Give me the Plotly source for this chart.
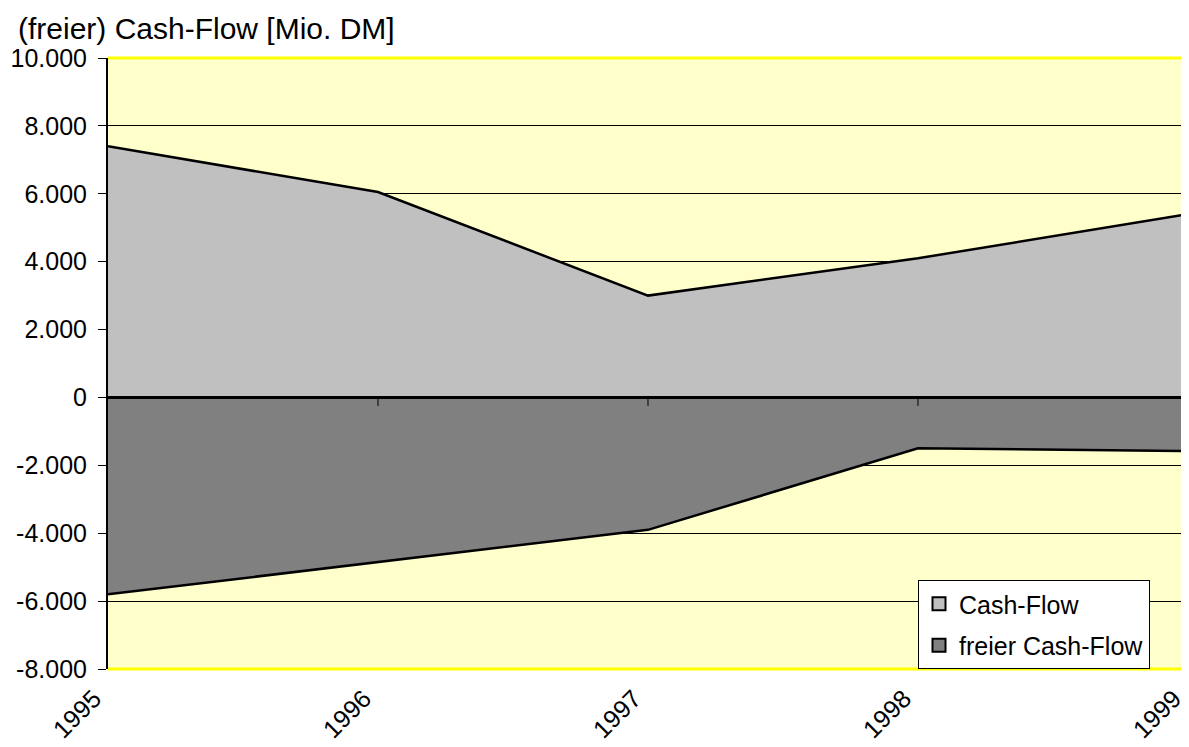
import plotly.graph_objects as go

years = [1995, 1996, 1997, 1998, 1999]
cash_flow = [7400, 6050, 3000, 4100, 5400]
freier_cash_flow = [-5800, -4850, -3900, -1500, -1580]
y_tickvals = [-8000, -6000, -4000, -2000, 0, 2000, 4000, 6000, 8000, 10000]
y_ticktext = ["-8.000", "-6.000", "-4.000", "-2.000", "0", "2.000", "4.000", "6.000", "8.000", "10.000"]

FONT = "Liberation Sans, Arial, sans-serif"

fig = go.Figure()
fig.add_trace(go.Scatter(
    x=years, y=cash_flow, name="Cash-Flow", mode="lines",
    fill="tozeroy", fillcolor="#C0C0C0",
    line=dict(color="black", width=2.5), showlegend=False))
fig.add_trace(go.Scatter(
    x=years, y=freier_cash_flow, name="freier Cash-Flow", mode="lines",
    fill="tozeroy", fillcolor="#808080",
    line=dict(color="black", width=2.5), showlegend=False))
# legend entries with square swatches
fig.add_trace(go.Scatter(
    x=[None], y=[None], name="Cash-Flow", mode="markers", legendgroup="a",
    marker=dict(symbol="square", size=13, color="#C0C0C0", line=dict(color="black", width=2))))
fig.add_trace(go.Scatter(
    x=[None], y=[None], name="freier Cash-Flow", mode="markers", legendgroup="b",
    marker=dict(symbol="square", size=13, color="#808080", line=dict(color="black", width=2))))

shapes = [
    dict(type="line", xref="x", yref="y", x0=years[0], x1=years[-1], y0=0, y1=0,
         line=dict(color="black", width=3), layer="above"),
    dict(type="line", xref="paper", yref="paper", x0=0, x1=1, y0=1, y1=1,
         line=dict(color="#FFFF00", width=3), layer="above"),
    dict(type="line", xref="paper", yref="paper", x0=0, x1=1, y0=0, y1=0,
         line=dict(color="#FFFF00", width=3), layer="above"),
    dict(type="line", xref="paper", yref="paper", x0=0.999, x1=0.999, y0=0, y1=1,
         line=dict(color="#FFFF00", width=2), layer="above"),
]
for yr in years[1:-1]:
    shapes.append(dict(type="line", xref="x", yref="y", x0=yr, x1=yr, y0=0, y1=-250,
                       line=dict(color="black", width=1), layer="above"))

fig.update_layout(
    width=1181, height=739,
    margin=dict(l=100, r=1, t=50, b=78),
    paper_bgcolor="white", plot_bgcolor="#FFFFCC",
    font=dict(family=FONT, size=25, color="black"),
    showlegend=True,
    legend=dict(x=0.75, y=0, xanchor="left", yanchor="bottom",
                bgcolor="white", bordercolor="black", borderwidth=1,
                font=dict(size=25), traceorder="grouped", tracegroupgap=6,
                itemwidth=30),
    annotations=[dict(text="(freier) Cash-Flow [Mio. DM]", xref="paper", yref="paper",
                      x=-0.085, y=1.0475, xanchor="left", yanchor="middle",
                      showarrow=False, font=dict(size=30))],
    shapes=shapes,
    xaxis=dict(range=[years[0], years[-1] + 0.0001], tickvals=years, ticktext=[str(y) for y in years],
               tickangle=-45, showgrid=False, zeroline=False, showline=False,
               ticks="", tickfont=dict(size=25), automargin=False,
               ticklabeloverflow="allow", ticklabelstandoff=9, ticklabelshift=-14),
    yaxis=dict(range=[-8000, 10000], tickvals=y_tickvals, ticktext=y_ticktext,
               showgrid=True, gridcolor="black", gridwidth=1, zeroline=False,
               showline=True, linecolor="black", linewidth=2,
               ticks="outside", ticklen=8, tickcolor="black", tickfont=dict(size=25),
               automargin=False, ticklabelstandoff=6),
)

fig.write_html("out.html")
